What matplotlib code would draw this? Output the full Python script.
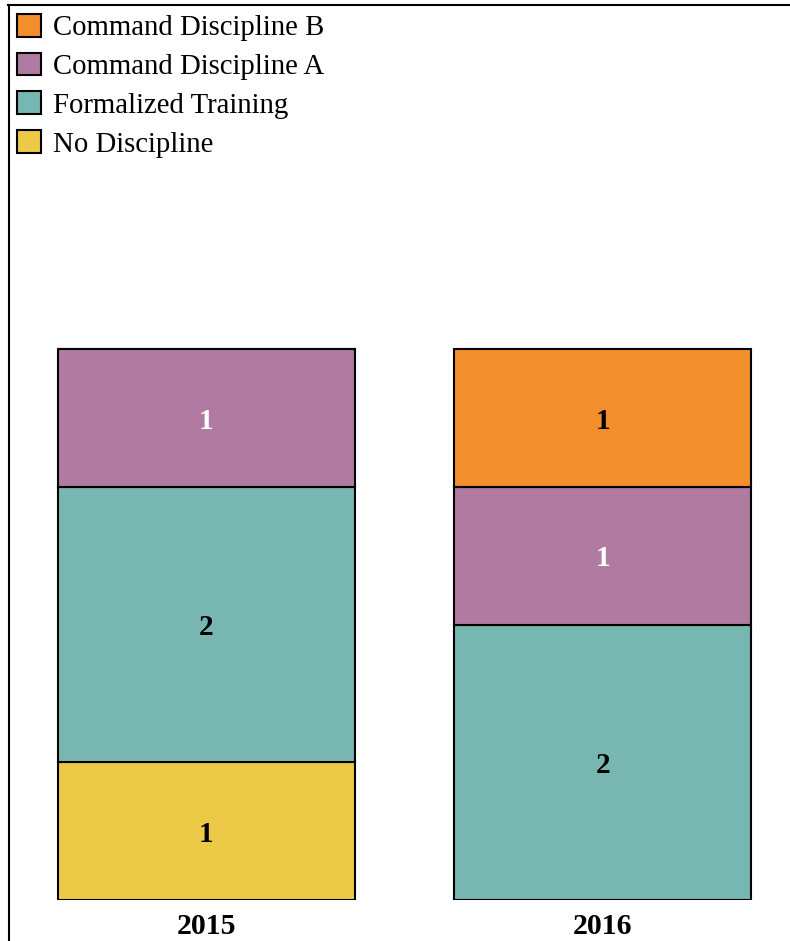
import matplotlib
matplotlib.use("Agg")
import matplotlib.pyplot as plt
from matplotlib.lines import Line2D
import numpy as np

years = ["2015", "2016"]
series_names = ["No Discipline", "Formalized Training", "Command Discipline A", "Command Discipline B"]
no_discipline = [1, 0]
formalized_training = [2, 2]
command_a = [1, 1]
command_b = [0, 1]
series_values = [no_discipline, formalized_training, command_a, command_b]
colors = ["#EDC948", "#78B6B1", "#B07AA1", "#F28E2B"]
label_colors = ["black", "black", "white", "black"]

plt.rcParams['font.family'] = ['Liberation Serif', 'DejaVu Serif']

W, H = 790, 941
fig = plt.figure(figsize=(W / 100, H / 100), dpi=100)
ax = fig.add_axes([8 / W, 41 / H, 793 / W, 895 / H])

x = np.arange(len(years))
bottom = np.zeros(len(years))
handles = []
for name, vals, col, lc in zip(series_names, series_values, colors, label_colors):
    vals = np.array(vals, dtype=float)
    bars = ax.bar(x, vals, width=0.75, bottom=bottom, color=col,
                  edgecolor="black", linewidth=1.5, label=name)
    for xi, v, b in zip(x, vals, bottom):
        if v > 0:
            ax.text(xi, b + v / 2, f"{int(v)}", ha="center", va="center_baseline",
                    color=lc, fontsize=21, fontweight="bold")
    bottom += vals
    handles.append(bars)

ax.set_xlim(-0.5, 1.5)
ax.set_ylim(0, 6.5)
ax.set_xticks(x)
ax.set_xticklabels(years, fontsize=21.5, fontweight="bold")
ax.tick_params(axis="x", length=0, pad=9)
ax.set_yticks([])
for s in ["bottom", "right", "left"]:
    ax.spines[s].set_visible(False)
ax.spines["top"].set_linewidth(1.5)

# figure frame line on the left (runs full height)
fig.add_artist(Line2D([8.5 / W, 8.5 / W], [0, 1 - 5 / H], transform=fig.transFigure,
                      color="black", linewidth=1.5))

leg = ax.legend(handles[::-1], series_names[::-1], loc="upper left",
                bbox_to_anchor=(0.0, 1.0), frameon=False, fontsize=20.7,
                handlelength=0.85, handleheight=0.85, handletextpad=0.4,
                labelspacing=0.4, borderaxespad=0.0, borderpad=0.3)

fig.savefig("out.png", dpi=100)
